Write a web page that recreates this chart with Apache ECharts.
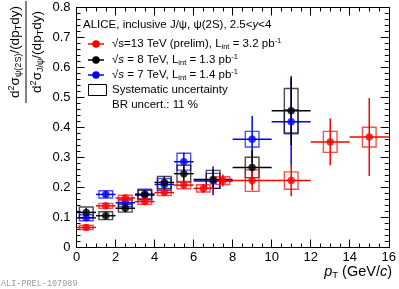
<!DOCTYPE html>
<html><head><meta charset="utf-8">
<script src="https://cdn.jsdelivr.net/npm/echarts@6/dist/echarts.min.js"></script>
<style>html,body{margin:0;padding:0;background:#fff}#c{width:399px;height:289px}</style>
</head><body><div id="c"></div>
<script>
// ---- axis ticks ----
const xTickLabels = [0, 2, 4, 6, 8, 10, 12, 14, 16];
const yTickLabels = [0, 0.1, 0.2, 0.3, 0.4, 0.5, 0.6, 0.7, 0.8];

// ---- 13 TeV (prelim), red ----
const pt13   = [0.5, 1.5, 2.5, 3.5, 4.5, 5.5, 6.5, 7.5, 9, 11, 13, 15];
const lo13   = [0, 1, 2, 3, 4, 5, 6, 7, 8, 10, 12, 14];
const hi13   = [1, 2, 3, 4, 5, 6, 7, 8, 10, 12, 14, 16];
const val13  = [0.067, 0.139, 0.165, 0.153, 0.183, 0.208, 0.197, 0.223, 0.223, 0.223, 0.352, 0.368];
const stat13 = [0.008, 0.008, 0.008, 0.009, 0.010, 0.012, 0.015, 0.020, 0.033, 0.052, 0.078, 0.130];
const sys13  = [0.007, 0.008, 0.009, 0.009, 0.010, 0.012, 0.012, 0.013, 0.036, 0.029, 0.035, 0.033];

// ---- 8 TeV, black ----
const pt8   = [0.5, 1.5, 2.5, 3.5, 4.5, 5.5, 7, 9, 11];
const lo8   = [0, 1, 2, 3, 4, 5, 6, 8, 10];
const hi8   = [1, 2, 3, 4, 5, 6, 8, 10, 12];
const val8  = [0.117, 0.106, 0.131, 0.175, 0.217, 0.246, 0.227, 0.267, 0.456];
const stat8 = [0.015, 0.012, 0.013, 0.015, 0.020, 0.025, 0.033, 0.057, 0.115];
const sys8  = [0.018, 0.013, 0.013, 0.016, 0.020, 0.028, 0.030, 0.034, 0.074];

// ---- 7 TeV, blue ----
const pt7   = [0.5, 1.5, 2.5, 3.5, 4.5, 5.5, 7, 9, 11];
const lo7   = [0, 1, 2, 3, 4, 5, 6, 8, 10];
const hi7   = [1, 2, 3, 4, 5, 6, 8, 10, 12];
const val7  = [0.099, 0.177, 0.149, 0.178, 0.210, 0.286, 0.222, 0.361, 0.419];
const stat7 = [0.010, 0.012, 0.012, 0.015, 0.020, 0.030, 0.048, 0.077, 0.144];
const sys7  = [0.010, 0.012, 0.012, 0.016, 0.020, 0.028, 0.025, 0.026, 0.040];

const FONT = 'Liberation Sans, Arial, Helvetica, sans-serif';
const BOX_HALF = 0.35;

function errSeries(color, pt, lo, hi, val, stat, sys) {
  return {
    type: 'custom',
    xAxisIndex: 0, yAxisIndex: 0,
    z: 2,
    clip: false,
    data: pt.map((x, i) => [x, val[i]]),
    encode: { x: 0, y: 1 },
    renderItem: function (params, api) {
      const i = params.dataIndex;
      const c = api.coord([pt[i], val[i]]);
      const xl = api.coord([lo[i], val[i]])[0];
      const xh = api.coord([hi[i], val[i]])[0];
      const yt = api.coord([pt[i], val[i] + stat[i]])[1];
      const yb = api.coord([pt[i], val[i] - stat[i]])[1];
      const bx0 = api.coord([pt[i] - BOX_HALF, val[i]])[0];
      const bx1 = api.coord([pt[i] + BOX_HALF, val[i]])[0];
      const by0 = api.coord([pt[i], val[i] + sys[i]])[1];
      const by1 = api.coord([pt[i], val[i] - sys[i]])[1];
      return {
        type: 'group',
        children: [
          { type: 'rect', shape: { x: bx0, y: by0, width: bx1 - bx0, height: by1 - by0 },
            style: { fill: 'none', stroke: color, lineWidth: 1.4, opacity: 0.7 } },
          { type: 'line', shape: { x1: xl, y1: c[1], x2: xh, y2: c[1] },
            style: { stroke: color, lineWidth: 1.5 } },
          { type: 'line', shape: { x1: c[0], y1: yt, x2: c[0], y2: yb },
            style: { stroke: color, lineWidth: 1.5 } }
        ]
      };
    }
  };
}
function markSeries(color, pt, val) {
  return {
    type: 'scatter', xAxisIndex: 0, yAxisIndex: 0, z: 3,
    symbol: 'circle', symbolSize: 7.5,
    itemStyle: { color: color },
    data: pt.map((x, i) => [x, val[i]])
  };
}

function xAxisDef(pos, showLabel) {
  return {
    type: 'value', position: pos, min: xTickLabels[0], max: xTickLabels[xTickLabels.length - 1],
    interval: xTickLabels[1] - xTickLabels[0],
    axisLine: { show: true, onZero: false, lineStyle: { color: '#000', width: 1 } },
    axisTick: { show: true, inside: true, length: 8, lineStyle: { color: '#000', width: 1 } },
    minorTick: { show: true, splitNumber: 4, length: 4, lineStyle: { color: '#000', width: 1 } },
    splitLine: { show: false }, minorSplitLine: { show: false },
    axisLabel: { show: showLabel, color: '#000', fontSize: 13, fontFamily: FONT, margin: 3 }
  };
}
function yAxisDef(pos, showLabel) {
  return {
    type: 'value', position: pos, min: yTickLabels[0], max: yTickLabels[yTickLabels.length - 1],
    interval: 0.1,
    axisLine: { show: true, onZero: false, lineStyle: { color: '#000', width: 1 } },
    axisTick: { show: true, inside: true, length: 8, lineStyle: { color: '#000', width: 1 } },
    minorTick: { show: true, splitNumber: 5, length: 4, lineStyle: { color: '#000', width: 1 } },
    splitLine: { show: false }, minorSplitLine: { show: false },
    axisLabel: { show: showLabel, color: '#000', fontSize: 13, fontFamily: FONT, margin: 6,
      formatter: v => (Math.abs(v) < 1e-9 ? '0' : (+v).toFixed(1)) }
  };
}

const richBase = {
  n:   { fontSize: 11.5, fontFamily: FONT, color: '#000', verticalAlign: 'middle', lineHeight: 14 },
  it:  { fontSize: 11.5, fontFamily: FONT, color: '#000', fontStyle: 'italic', verticalAlign: 'middle', lineHeight: 14 },
  sub: { fontSize: 7.5, fontFamily: FONT, color: '#000', verticalAlign: 'bottom', lineHeight: 8 },
  sup: { fontSize: 7.5, fontFamily: FONT, color: '#000', verticalAlign: 'top', lineHeight: 8 }
};
const richTitle = {
  n:   { fontSize: 13.5, fontFamily: FONT, color: '#000', verticalAlign: 'middle', lineHeight: 16 },
  it:  { fontSize: 13.5, fontFamily: FONT, color: '#000', fontStyle: 'italic', verticalAlign: 'middle', lineHeight: 16 },
  sub: { fontSize: 9, fontFamily: FONT, color: '#000', verticalAlign: 'bottom', lineHeight: 9 },
  sup: { fontSize: 9, fontFamily: FONT, color: '#000', verticalAlign: 'top', lineHeight: 9 }
};
const richXTitle = {
  n:   { fontSize: 14.5, fontFamily: FONT, color: '#000', verticalAlign: 'middle', lineHeight: 17 },
  it:  { fontSize: 14.5, fontFamily: FONT, color: '#000', fontStyle: 'italic', verticalAlign: 'middle', lineHeight: 17 },
  sub: { fontSize: 9.5, fontFamily: FONT, color: '#000', verticalAlign: 'bottom', lineHeight: 9 }
};

function legendRow(y, color, text) {
  return [
    { type: 'line', shape: { x1: 88, y1: y, x2: 104, y2: y }, style: { stroke: color, lineWidth: 1.5 } },
    { type: 'circle', shape: { cx: 96, cy: y, r: 3.7 }, style: { fill: color } },
    { type: 'text', x: 112, y: y, style: { text: text, rich: richBase, verticalAlign: 'middle', align: 'left' } }
  ];
}

const chart = echarts.init(document.getElementById('c'), null, { renderer: 'canvas' });
chart.setOption({
  animation: false,
  backgroundColor: '#fff',
  grid: { left: 76.5, right: 9.5, top: 7.5, bottom: 41.5, containLabel: false },
  xAxis: [xAxisDef('bottom', true), xAxisDef('top', false)],
  yAxis: [yAxisDef('left', true), yAxisDef('right', false)],
  series: [
    errSeries('#0000ff', pt7, lo7, hi7, val7, stat7, sys7),
    errSeries('#000000', pt8, lo8, hi8, val8, stat8, sys8),
    errSeries('#ff0000', pt13, lo13, hi13, val13, stat13, sys13),
    markSeries('#0000ff', pt7, val7),
    markSeries('#000000', pt8, val8),
    markSeries('#ff0000', pt13, val13)
  ],
  graphic: [
    { type: 'text', x: 83, y: 25, style: { text: '{n|ALICE, inclusive J/ψ, ψ(2S), 2.5<}{it|y}{n|<4}', rich: richBase, verticalAlign: 'middle' } },
    ...legendRow(44, '#ff0000', '{n|√s=13 TeV (prelim), L}{sub|int}{n| = 3.2 pb}{sup|-1}'),
    ...legendRow(60, '#000000', '{n|√}{it|s}{n| = 8 TeV, L}{sub|int}{n| = 1.3 pb}{sup|-1}'),
    ...legendRow(75, '#0000ff', '{n|√}{it|s}{n| = 7 TeV, L}{sub|int}{n| = 1.4 pb}{sup|-1}'),
    { type: 'rect', shape: { x: 88.5, y: 84.5, width: 18, height: 11 }, style: { fill: 'none', stroke: '#000', lineWidth: 1 } },
    { type: 'text', x: 112, y: 90, style: { text: '{n|Systematic uncertainty}', rich: richBase, verticalAlign: 'middle' } },
    { type: 'text', x: 112, y: 105, style: { text: '{n|BR uncert.: 11 %}', rich: richBase, verticalAlign: 'middle' } },
    // x-axis title
    { type: 'text', x: 392, y: 272, style: { text: '{it|p}{sub|T}{n| (GeV/}{it|c}{n|)}', rich: richXTitle, align: 'right', verticalAlign: 'middle' } },
    // y-axis title (fraction, rotated)
    { type: 'group', x: 26, y: 52, rotation: Math.PI / 2, children: [
      { type: 'text', x: 0, y: -11, style: { text: '{n|d}{sup|2}{n|σ}{sub|ψ(2S)}{n|/(dp}{sub|T}{n|dy)}', rich: richTitle, align: 'center', verticalAlign: 'middle' } },
      { type: 'line', shape: { x1: -51, y1: 0, x2: 51, y2: 0 }, style: { stroke: '#000', lineWidth: 1 } },
      { type: 'text', x: 0, y: 11, style: { text: '{n|d}{sup|2}{n|σ}{sub|J/ψ}{n|/(dp}{sub|T}{n|dy)}', rich: richTitle, align: 'center', verticalAlign: 'middle' } }
    ] },
    // preliminary id
    { type: 'text', x: 1, y: 284, style: { text: 'ALI-PREL-107989', fill: '#9a9a9a', font: '8.5px "Liberation Mono", monospace', verticalAlign: 'middle' } }
  ]
});
</script>
</body></html>
